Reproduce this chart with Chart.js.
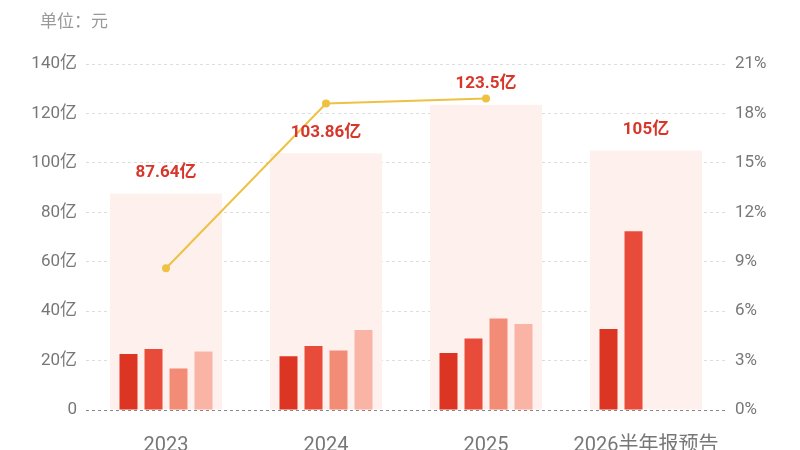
<!DOCTYPE html>
<html>
<head>
<meta charset="utf-8">
<script src="https://cdn.jsdelivr.net/npm/chart.js@4/dist/chart.umd.min.js"></script>
<style>
    html, body { margin: 0; padding: 0; background: #fff; }
    #wrap { width: 800px; height: 450px; }
</style>
</head>
<body>
<div id="wrap"><canvas id="mainChart"></canvas></div>
<script>
/*
    data
*/
var categories = ['2023', '2024', '2025', '2026半年报预告'];
var totals = [87.64, 103.86, 123.5, 105];
var part1 = [22.7, 21.7, 23.1, 32.8];
var part2 = [24.7, 25.9, 28.9, 72.3];
var part3 = [16.8, 24.1, 37.0, null];
var part4 = [23.7, 32.4, 34.8, null];
var growthRate = [8.6, 18.6, 18.9, null];

var unitText = '单位：元';
var baseFont = "Roboto, 'Noto Sans CJK SC', sans-serif";

// unit text + value labels above the pale total bars
var totalLabelPlugin = {
    id: 'totalLabel',
    afterDatasetsDraw: function(chart){
        var ctx = chart.ctx;
        var meta = chart.getDatasetMeta(0);
        ctx.save();
        ctx.fillStyle = '#D8362A';
        ctx.font = 'bold 17px ' + baseFont;
        ctx.textAlign = 'center';
        ctx.textBaseline = 'middle';
        meta.data.forEach(function(bar, i){
            ctx.fillText(totals[i] + '亿', bar.x, bar.y - 21);
        });

        ctx.fillStyle = '#999999';
        ctx.font = '17px ' + baseFont;
        ctx.textAlign = 'left';
        ctx.fillText(unitText, 40, 23);
        ctx.restore();
    }
};

var ctx = document.getElementById('mainChart');

var barStyle = {
    categoryPercentage: 0.625,
    barPercentage: 0.72,
    yAxisID: 'y',
    order: 1
};

var config = {
    type: 'bar',
    data: {
        labels: categories,
        datasets: [
            {
                label: 'total',
                data: totals,
                backgroundColor: '#FEF1ED',
                grouped: false,
                categoryPercentage: 1,
                barPercentage: 0.7,
                yAxisID: 'y',
                order: 10
            },
            Object.assign({ label: 'part1', data: part1, backgroundColor: '#DC3523' }, barStyle),
            Object.assign({ label: 'part2', data: part2, backgroundColor: '#E94B3B' }, barStyle),
            Object.assign({ label: 'part3', data: part3, backgroundColor: '#F28C77' }, barStyle),
            Object.assign({ label: 'part4', data: part4, backgroundColor: '#FAB4A5' }, barStyle),
            {
                type: 'line',
                label: 'growth',
                data: growthRate,
                yAxisID: 'y1',
                borderColor: '#EFC143',
                backgroundColor: '#EFC143',
                borderWidth: 2,
                pointRadius: 4,
                pointBorderWidth: 0,
                tension: 0,
                order: 0
            }
        ]
    },
    options: {
        responsive: true,
        maintainAspectRatio: false,
        animation: false,
        layout: {
            padding: { top: 64, bottom: 0, left: 0, right: 0 }
        },
        plugins: {
            legend: { display: false },
            tooltip: { enabled: false },
            title: { display: false }
        },
        scales: {
            x: {
                grid: { display: false },
                border: { display: false },
                ticks: {
                    color: '#777777',
                    font: { family: baseFont, size: 20 },
                    padding: 16,
                    maxRotation: 0,
                    autoSkip: false
                },
                afterFit: function(scale){ scale.height = 40; }
            },
            y: {
                position: 'left',
                min: 0,
                max: 140,
                ticks: {
                    stepSize: 20,
                    color: '#777777',
                    padding: 9,
                    font: { family: baseFont, size: 17 },
                    callback: function(v){ return v === 0 ? '0' : v + '亿'; }
                },
                border: { display: false, dash: [3, 3] },
                grid: {
                    drawTicks: false,
                    color: function(c){ return c.tick && c.tick.value === 0 ? '#888888' : '#dddddd'; }
                },
                afterFit: function(scale){ scale.width = 86; }
            },
            y1: {
                position: 'right',
                min: 0,
                max: 21,
                ticks: {
                    stepSize: 3,
                    color: '#777777',
                    padding: 9,
                    font: { family: baseFont, size: 17 },
                    callback: function(v){ return v + '%'; }
                },
                border: { display: false },
                grid: { drawOnChartArea: false, drawTicks: false },
                afterFit: function(scale){ scale.width = 74; }
            }
        }
    },
    plugins: [totalLabelPlugin]
};

new Chart(ctx, config);
</script>
</body>
</html>
